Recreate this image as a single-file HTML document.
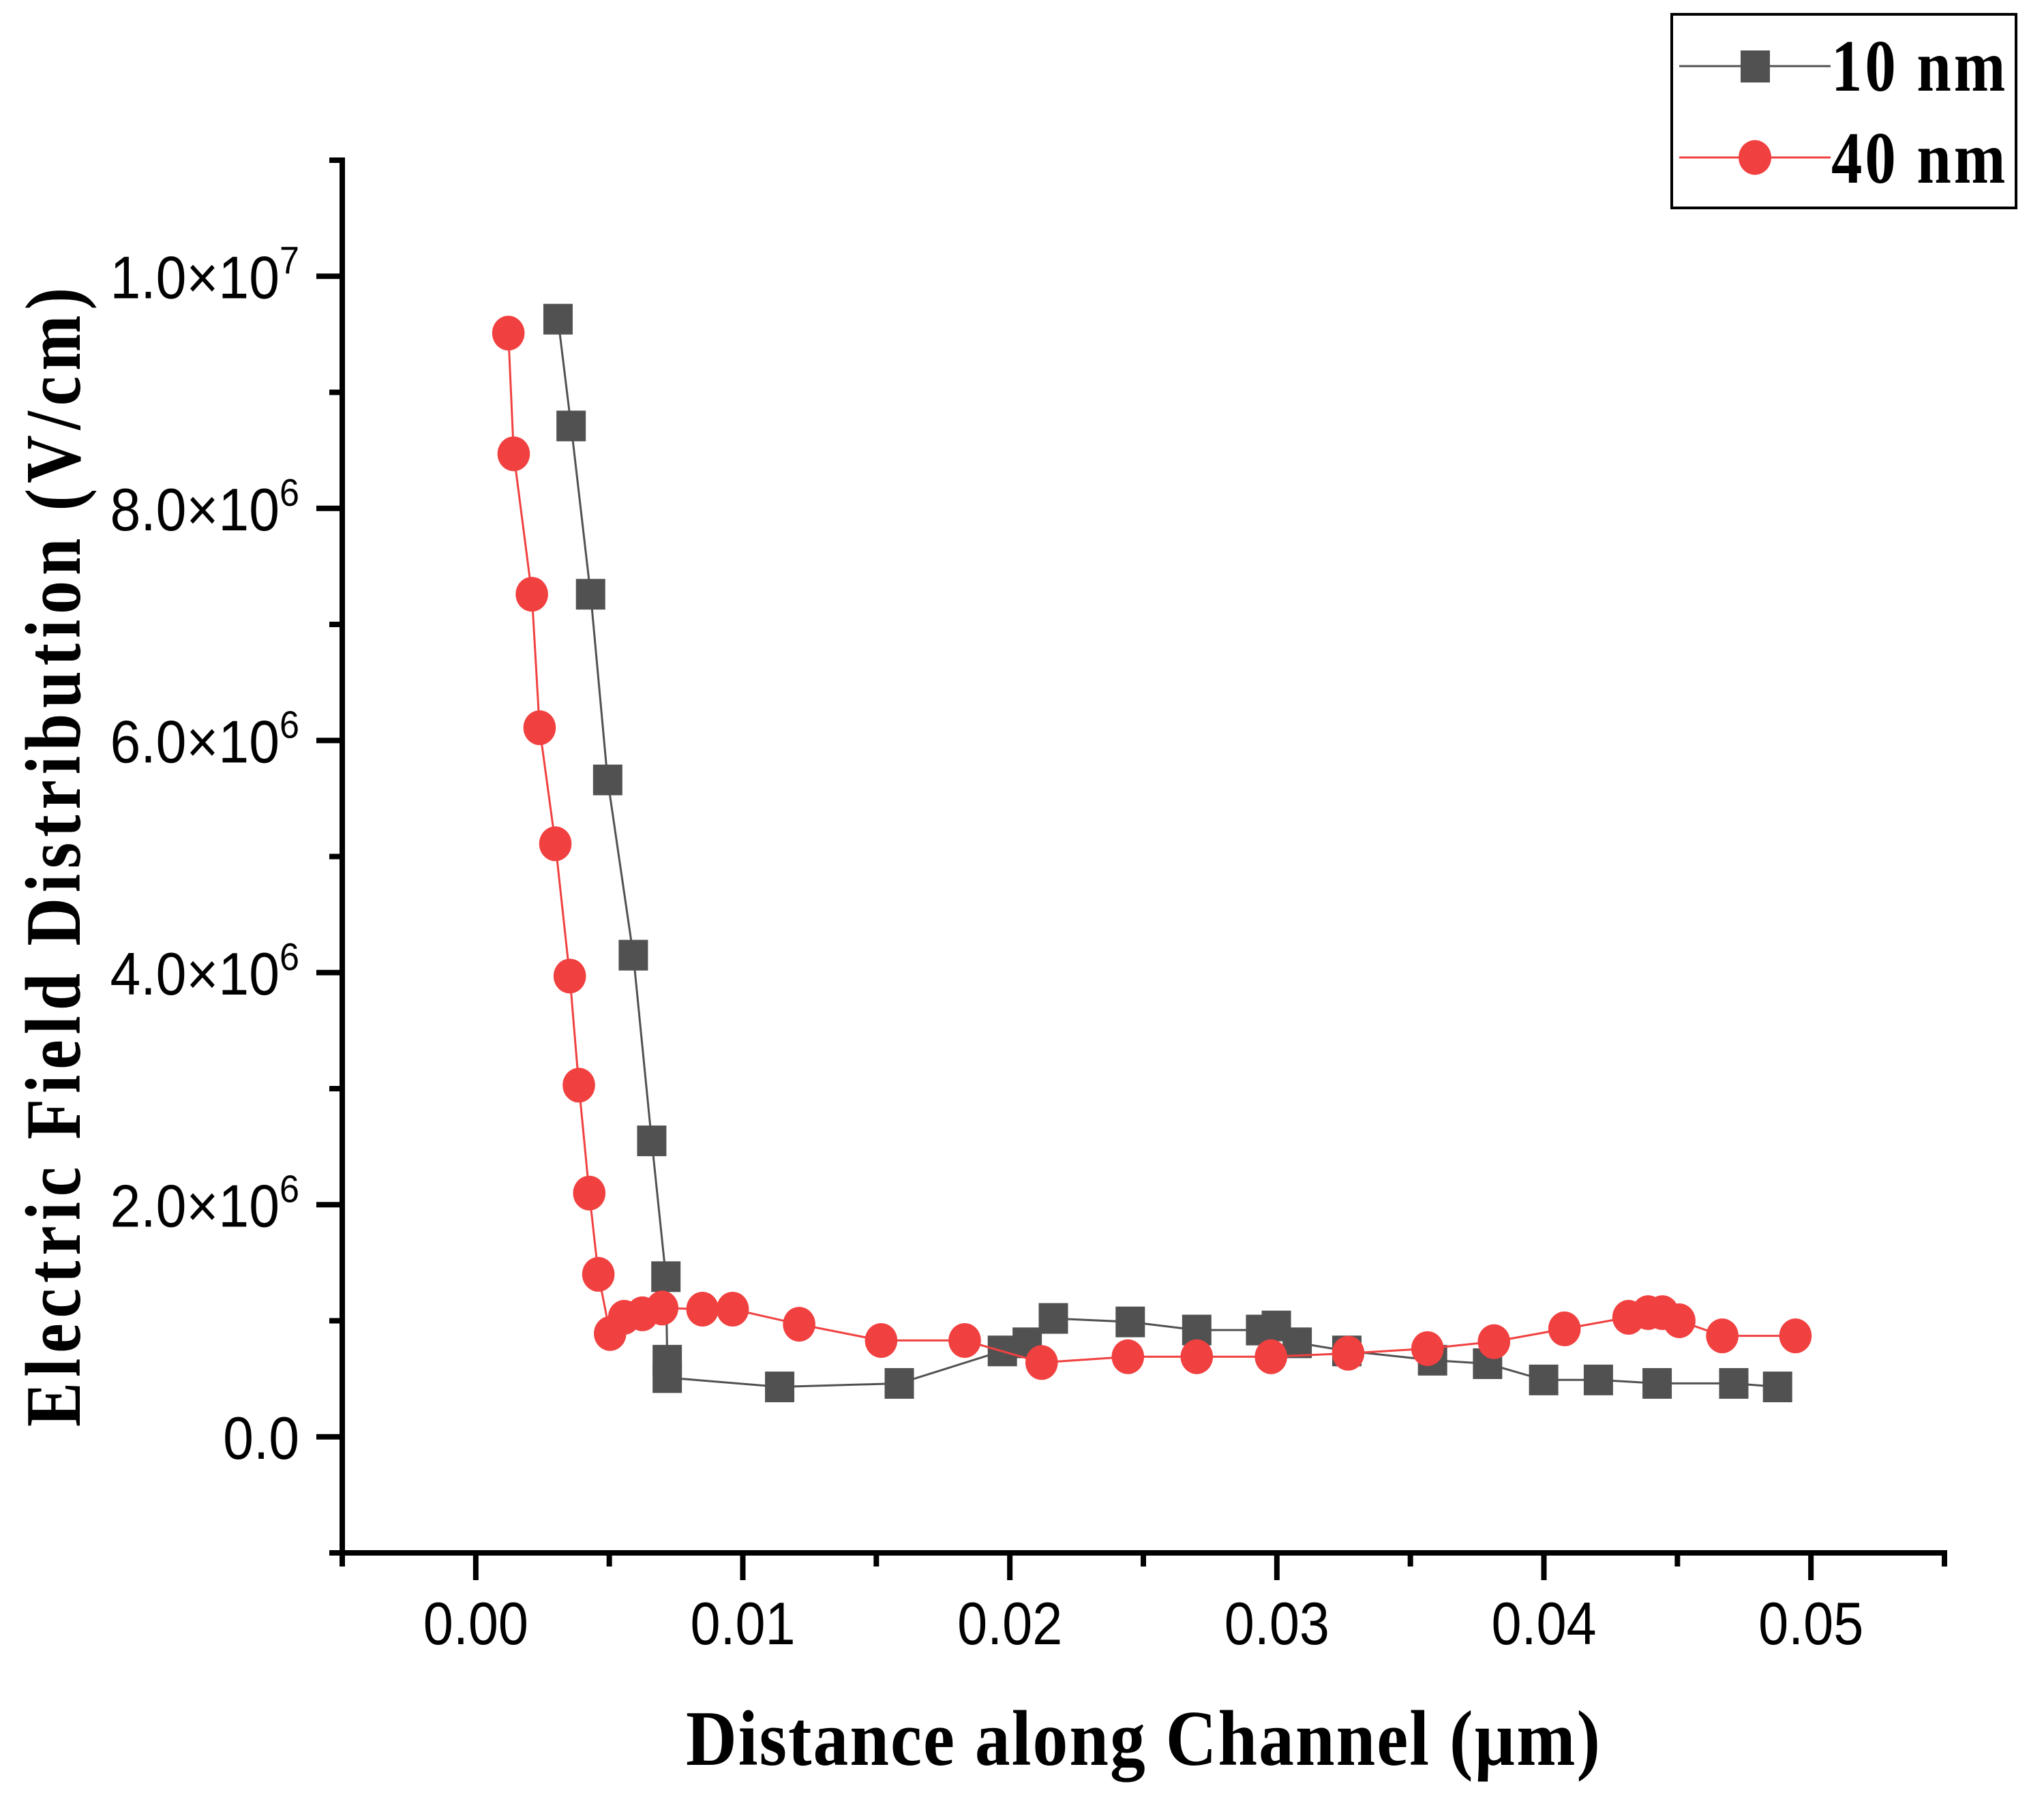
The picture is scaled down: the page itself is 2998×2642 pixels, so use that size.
<!DOCTYPE html>
<html lang="en">
<head>
<meta charset="utf-8">
<title>Electric Field Distribution</title>
<style>
html,body{margin:0;padding:0;background:#fff;}
svg{display:block;}
.serif{font-family:"Liberation Serif",serif;font-weight:bold;fill:#000;}
.sans{font-family:"Liberation Sans",sans-serif;fill:#000;}
</style>
</head>
<body>
<svg id="chart" xmlns="http://www.w3.org/2000/svg" width="2998" height="2642" viewBox="0 0 2998 2642">
  <rect x="0" y="0" width="2998" height="2642" fill="#fff"/>
  <g id="axes"></g>
  <g id="series-10"></g>
  <g id="series-40"></g>
  <text class="serif" transform="translate(1676.5,2589) scale(0.9,1)" x="0" y="0" font-size="115" text-anchor="middle" textLength="1490" lengthAdjust="spacing">Distance along Channel (µm)</text>
  <text class="serif" transform="translate(117,1257.5) rotate(-90) scale(0.85,1)" x="0" y="0" font-size="115" text-anchor="middle" textLength="1966" lengthAdjust="spacing">Electric Field Distribution (V/cm)</text>
  <g>
    <rect x="2452" y="21" width="505" height="284" fill="#fff" stroke="#000" stroke-width="4"/>
    <g>
      <line x1="2463" y1="97" x2="2685" y2="97" stroke="#515151" stroke-width="3"/>
      <rect x="2553" y="74" width="43" height="47" fill="#515151"/>
      <text class="serif" transform="translate(2686,133) scale(0.84,1)" x="0" y="0" font-size="108" textLength="304" lengthAdjust="spacing">10 nm</text>
    </g>
    <g>
      <line x1="2463" y1="231" x2="2685" y2="231" stroke="#F14040" stroke-width="3"/>
      <ellipse cx="2574" cy="231" rx="24" ry="25.5" fill="#F14040"/>
      <text class="serif" transform="translate(2686,268) scale(0.84,1)" x="0" y="0" font-size="108" textLength="304" lengthAdjust="spacing">40 nm</text>
    </g>
  </g>
</svg>
<script>
// Data: distance in µm, field in units of 1e6 V/cm
const x10 = [0.00308,0.00357,0.00430,0.00494,0.00590,0.00659,0.00712,0.00717,0.00717,0.01138,0.01586,0.01972,0.02065,0.02163,0.02451,0.02700,0.02939,0.02998,0.03076,0.03262,0.03583,0.03789,0.03999,0.04204,0.04424,0.04711,0.04875];
const y10 = [9.63,8.71,7.26,5.66,4.15,2.55,1.38,0.66,0.51,0.43,0.46,0.74,0.81,1.02,0.99,0.92,0.92,0.955,0.81,0.74,0.66,0.63,0.49,0.49,0.46,0.46,0.43];
const x40 = [0.00122,0.00142,0.00210,0.00239,0.00298,0.00352,0.00386,0.00425,0.00459,0.00503,0.00556,0.00624,0.00698,0.00849,0.00962,0.01211,0.01518,0.01831,0.02119,0.02442,0.02700,0.02978,0.03267,0.03564,0.03813,0.04077,0.04317,0.04390,0.04444,0.04507,0.04668,0.04942];
const y40 = [9.51,8.47,7.26,6.11,5.11,3.97,3.03,2.10,1.40,0.89,1.03,1.06,1.11,1.10,1.10,0.97,0.83,0.83,0.64,0.69,0.69,0.69,0.72,0.76,0.82,0.93,1.03,1.07,1.07,1.00,0.87,0.87];
const xMajorTicks = [0,0.01,0.02,0.03,0.04,0.05];
const xMinorTicks = [-0.005,0.005,0.015,0.025,0.035,0.045,0.055];
const xTickLabels = ['0.00','0.01','0.02','0.03','0.04','0.05'];
const yMajorTicks = [0,2,4,6,8,10];
const yMinorTicks = [-1,1,3,5,7,9,11];
const yTickMantissas = ['0.0','2.0×10','4.0×10','6.0×10','8.0×10','1.0×10'];
const yTickExponents = ['','6','6','6','6','7'];
const xDomain = [-0.005,0.055];
const yDomain = [-1,11];

const NS = 'http://www.w3.org/2000/svg';
function xScale(v){ return 502 + (v - xDomain[0]) / (xDomain[1] - xDomain[0]) * 2350; }
function yScale(v){ return 2278 - (v - yDomain[0]) / (yDomain[1] - yDomain[0]) * 2043; }
function make(parent, tag, attrs){
  const el = document.createElementNS(NS, tag);
  for (const k in attrs) el.setAttribute(k, attrs[k]);
  parent.appendChild(el);
  return el;
}

const axes = document.getElementById('axes');
const yAxisLine = make(axes, 'line', {x1:xScale(xDomain[0]), y1:yScale(yDomain[0])+20, x2:xScale(xDomain[0]), y2:yScale(yDomain[1])-4, stroke:'#000', 'stroke-width':8});


const xAxisLine = make(axes, 'line', {x1:483, y1:yScale(yDomain[0]), x2:xScale(xDomain[1])+4, y2:yScale(yDomain[0]), stroke:'#000', 'stroke-width':8});



const xAxisY = yScale(yDomain[0]);
const yAxisX = xScale(xDomain[0]);

xMajorTicks.forEach(function(v, i){
  const t = make(axes, 'line', {x1:xScale(v), y1:xAxisY, x2:xScale(v), y2:xAxisY+40, stroke:'#000', 'stroke-width':8});
  
  
  const l = make(axes, 'text', {transform:'translate('+xScale(v)+',2412) scale(0.9,1)', 'text-anchor':'middle', 'font-size':88, 'class':'sans'});
  l.textContent = xTickLabels[i];
  
  
});
xMinorTicks.forEach(function(v){
  const t = make(axes, 'line', {x1:xScale(v), y1:xAxisY, x2:xScale(v), y2:xAxisY+20, stroke:'#000', 'stroke-width':8});
  
  
});
yMajorTicks.forEach(function(v, i){
  const t = make(axes, 'line', {x1:yAxisX, y1:yScale(v), x2:yAxisX-38, y2:yScale(v), stroke:'#000', 'stroke-width':8});
  
  
  const l = make(axes, 'text', {transform:'translate(439,'+(yScale(v)+32)+') scale(0.915,1)', 'text-anchor':'end', 'font-size':88, 'class':'sans'});
  l.appendChild(document.createTextNode(yTickMantissas[i]));
  if (yTickExponents[i]) {
    const s = make(l, 'tspan', {dy:-36, 'font-size':57});
    s.textContent = yTickExponents[i];
  }
  
  
});
yMinorTicks.forEach(function(v){
  const t = make(axes, 'line', {x1:yAxisX, y1:yScale(v), x2:yAxisX-19, y2:yScale(v), stroke:'#000', 'stroke-width':8});
  
  
});

function polyPoints(xs, ys){
  return xs.map(function(v, i){ return xScale(v).toFixed(1) + ',' + yScale(ys[i]).toFixed(1); }).join(' ');
}

const g10 = document.getElementById('series-10');
const line10 = make(g10, 'polyline', {points:polyPoints(x10, y10), fill:'none', stroke:'#515151', 'stroke-width':3});


x10.forEach(function(v, i){
  const m = make(g10, 'rect', {x:xScale(v)-21.5, y:yScale(y10[i])-22.5, width:43, height:45, fill:'#515151'});
  
  
});

const g40 = document.getElementById('series-40');
const line40 = make(g40, 'polyline', {points:polyPoints(x40, y40), fill:'none', stroke:'#F14040', 'stroke-width':3});


x40.forEach(function(v, i){
  const m = make(g40, 'ellipse', {cx:xScale(v), cy:yScale(y40[i]), rx:23.8, ry:25.5, fill:'#F14040'});
  
  
});
</script>
</body>
</html>
